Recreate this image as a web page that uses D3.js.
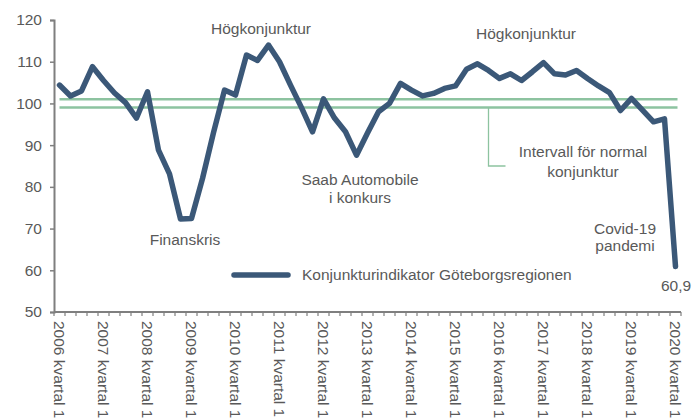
<!DOCTYPE html>
<html>
<head>
<meta charset="utf-8">
<script src="https://cdn.jsdelivr.net/npm/d3@7"></script>
<style>
  body { margin: 0; background: #fff; }
  svg text { font-family: "Liberation Sans", Arial, sans-serif; fill: #595959; }
</style>
</head>
<body>
<svg id="chart" width="694" height="419"></svg>
<script>
const width = 694;
const height = 419;
const margin = { top: 20, right: 13, bottom: 107, left: 54 };

// quarters 2006 kvartal 1 .. 2020 kvartal 1
const years = d3.range(2006, 2021);
const quarters = [1, 2, 3, 4];
const categories = years.flatMap((y) => quarters.map((q) => `${y} kvartal ${q}`))
  .filter((c) => c <= "2020 kvartal 1");

// Konjunkturindikator Göteborgsregionen
const values = [
  104.4, 101.8, 103.0, 108.8, 105.5, 102.5, 100.2, 96.5,
  102.8, 88.8, 83.1, 72.3, 72.4, 82.0, 93.0, 103.2,
  102.0, 111.6, 110.3, 114.0, 110.0, 104.4, 99.0, 93.2,
  101.1, 96.5, 93.2, 87.6, 92.9, 98.0, 100.0, 104.8,
  103.2, 101.8, 102.4, 103.6, 104.2, 108.2, 109.5, 107.9,
  106.0, 107.1, 105.5, 107.6, 109.8, 107.1, 106.8, 107.9,
  106.0, 104.2, 102.6, 98.3, 101.2, 98.4, 95.6, 96.3,
  60.9
];

// interval for normal business cycle
const normalBand = [99, 101];
const yTicks = [50, 60, 70, 80, 90, 100, 110, 120];

const lineColor = "#3b5878";
const bandColor = "#8dc3a0";

const svg = d3.select("#chart");

const x = d3.scaleBand()
  .domain(categories)
  .range([margin.left, width - margin.right])
  .padding(0);

const y = d3.scaleLinear()
  .domain([50, 120])
  .range([height - margin.bottom, margin.top]);

const cx = (c) => x(c) + x.bandwidth() / 2;

// y axis
const yAxis = svg.append("g")
  .attr("transform", `translate(${margin.left},0)`)
  .call(d3.axisLeft(y).tickValues(yTicks).tickSize(4).tickPadding(8).tickFormat(d3.format("d")));
yAxis.select(".domain").attr("stroke", "#7f7f7f").attr("stroke-width", 2);
yAxis.selectAll(".tick line").attr("stroke", "#7f7f7f").attr("stroke-width", 1.5);
yAxis.selectAll(".tick text").style("font-size", "15.5px").attr("fill", "#595959");

// x axis
const xAxisY = y(50);
const xAxis = svg.append("g");
xAxis.append("line")
  .attr("x1", margin.left).attr("x2", width - margin.right)
  .attr("y1", xAxisY).attr("y2", xAxisY)
  .attr("stroke", "#7f7f7f").attr("stroke-width", 2);
xAxis.selectAll("line.tick")
  .data(categories.map((c) => x(c)).concat([x.range()[1]]))
  .enter().append("line")
  .attr("class", "tick")
  .attr("x1", (d) => d).attr("x2", (d) => d)
  .attr("y1", xAxisY).attr("y2", xAxisY + 4)
  .attr("stroke", "#7f7f7f").attr("stroke-width", 1.2);
xAxis.selectAll("text")
  .data(categories.filter((c) => c.endsWith("kvartal 1")))
  .enter().append("text")
  .attr("transform", (d) => `translate(${cx(d)},${xAxisY + 9}) rotate(90)`)
  .attr("dy", "0.35em")
  .style("font-size", "15.5px")
  .text((d) => d);

// normal interval lines
const bandX = [cx(categories[0]), cx(categories[categories.length - 1]) + 2];
svg.append("g").selectAll("line")
  .data(normalBand)
  .enter().append("line")
  .attr("x1", bandX[0]).attr("x2", bandX[1])
  .attr("y1", (d) => y(d)).attr("y2", (d) => y(d))
  .attr("stroke", bandColor).attr("stroke-width", 2.5);

// callout for the interval
const calloutX = cx(categories[39]);
svg.append("path")
  .attr("d", `M${calloutX},${y(normalBand[0])} V${y(85)} H${calloutX + 17}`)
  .attr("fill", "none")
  .attr("stroke", bandColor)
  .attr("stroke-width", 1.3);

// main line
const line = d3.line()
  .x((d, i) => cx(categories[i]))
  .y((d) => y(d));

svg.append("path")
  .datum(values)
  .attr("d", line)
  .attr("fill", "none")
  .attr("stroke", lineColor)
  .attr("stroke-width", 5.5)
  .attr("stroke-linejoin", "round")
  .attr("stroke-linecap", "round");

// annotations
const annotations = [
  { text: "Högkonjunktur", x: 261, y: 29 },
  { text: "Högkonjunktur", x: 526, y: 34 },
  { text: "Finanskris", x: 185, y: 240 },
  { text: "Saab Automobile", x: 360, y: 180 },
  { text: "i konkurs", x: 360, y: 198 },
  { text: "Intervall för normal", x: 583, y: 152 },
  { text: "konjunktur", x: 583, y: 172 },
  { text: "Covid-19", x: 625, y: 229 },
  { text: "pandemi", x: 625, y: 246 },
  { text: "60,9", x: 676, y: 286 }
];
svg.append("g").selectAll("text")
  .data(annotations)
  .enter().append("text")
  .attr("x", (d) => d.x)
  .attr("y", (d) => d.y)
  .attr("dy", "0.35em")
  .attr("text-anchor", "middle")
  .style("font-size", "15.5px")
  .text((d) => d.text);

// legend
const legend = svg.append("g").attr("transform", "translate(234,275)");
legend.append("line")
  .attr("x1", 0).attr("x2", 54)
  .attr("stroke", lineColor).attr("stroke-width", 5.5)
  .attr("stroke-linecap", "round");
legend.append("text")
  .attr("x", 68)
  .attr("dy", "0.35em")
  .style("font-size", "15.5px")
  .text("Konjunkturindikator Göteborgsregionen");
</script>
</body>
</html>
